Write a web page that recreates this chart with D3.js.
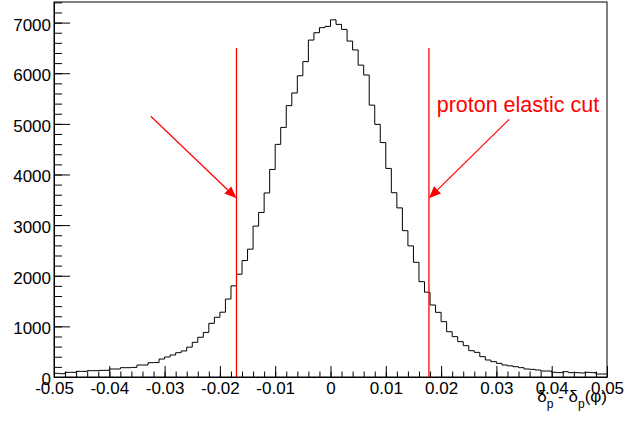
<!DOCTYPE html>
<html>
<head>
<meta charset="utf-8">
<script src="https://cdn.jsdelivr.net/npm/d3@7"></script>
<style>
  html, body { margin: 0; padding: 0; background: #fff; }
  text { font-family: "Liberation Sans", Arial, sans-serif; }
</style>
</head>
<body>
<div id="chart"></div>
<script>
// histogram: 100 bins from -0.05 to 0.05 (width 0.001)
const binStart = -0.05;
const binWidth = 0.001;
const counts = [
  72, 65, 92, 92, 112, 112, 125, 125, 130, 132,
  158, 158, 184, 184, 190, 237, 237, 283, 285, 355,
  395, 435, 480, 515, 590, 685, 785, 880, 1060, 1180,
  1280, 1540, 1800, 2030, 2300, 2525, 2980, 3250, 3635, 4100,
  4595, 4930, 5360, 5610, 5950, 6230, 6655, 6800, 6900, 6925,
  7055, 6965, 6865, 6635, 6460, 6160, 5965, 5370, 4990, 4630,
  4120, 3640, 3340, 2890, 2590, 2265, 1883, 1675, 1422, 1277,
  1093, 895, 797, 698, 619, 520, 487, 402, 336, 303,
  270, 237, 220, 204, 184, 158, 151, 138, 118, 118,
  92, 86, 105, 86, 86, 80, 92, 86, 59, 59
];

// axis ticks
const xTicks = [-0.05, -0.04, -0.03, -0.02, -0.01, 0, 0.01, 0.02, 0.03, 0.04, 0.05];
const xTickLabels = ["-0.05", "-0.04", "-0.03", "-0.02", "-0.01", "0", "0.01", "0.02", "0.03", "0.04", "0.05"];
const yTicks = [0, 1000, 2000, 3000, 4000, 5000, 6000, 7000];
const yTickLabels = ["0", "1000", "2000", "3000", "4000", "5000", "6000", "7000"];

// cut lines and annotation
const cutX = [-0.017, 0.0178];
const cutTop = 6500;
const arrowFrom = [[-0.0325, 5150], [0.0323, 5090]];
const arrowTo = [[-0.017, 3530], [0.0178, 3530]];
const labelText = "proton elastic cut";
const labelPos = [0.0192, 5234];

const width = 625, height = 423;
const padL = 54, padR = 607, padT = 2, padB = 377;

const svg = d3.select("#chart").append("svg")
  .attr("width", width)
  .attr("height", height);

svg.append("rect").attr("width", width).attr("height", height).attr("fill", "#fff");

const x = d3.scaleLinear().domain([-0.05, 0.05]).range([padL, padR]);
const y = d3.scaleLinear().domain([0, 7407]).range([padB, padT]);

// frame
svg.append("rect")
  .attr("x", padL).attr("y", padT)
  .attr("width", padR - padL).attr("height", padB - padT)
  .attr("fill", "none").attr("stroke", "#000").attr("stroke-width", 1);

// histogram step line
const pts = counts.map((c, i) => [binStart + i * binWidth, c]);
pts.push([binStart + counts.length * binWidth, counts[counts.length - 1]]);

const line = d3.line()
  .x(d => x(d[0]))
  .y(d => y(d[1]))
  .curve(d3.curveStepAfter);

svg.append("path")
  .datum(pts)
  .attr("d", line)
  .attr("fill", "none")
  .attr("stroke", "#000")
  .attr("stroke-width", 1);

// x axis, ticks pointing inward
const xMinor = d3.range(-50, 51, 2).map(d => d / 1000);
svg.append("g")
  .attr("transform", `translate(0,${padB})`)
  .call(d3.axisBottom(x).tickValues(xMinor).tickSizeInner(-5.5).tickSizeOuter(0).tickFormat(""))
  .call(g => g.select(".domain").remove());

svg.append("g")
  .attr("transform", `translate(0,${padB})`)
  .call(d3.axisBottom(x).tickValues(xTicks).tickSizeInner(-11).tickSizeOuter(0).tickPadding(5)
    .tickFormat((d, i) => xTickLabels[i]))
  .call(g => g.selectAll("text").attr("font-size", 17).attr("fill", "#000")
    .style("font-family", "'Liberation Sans', Arial, sans-serif"));

// y axis, ticks pointing inward
const yMinor = d3.range(0, 7401, 200);
svg.append("g")
  .attr("transform", `translate(${padL},0)`)
  .call(d3.axisLeft(y).tickValues(yMinor).tickSizeInner(-8).tickSizeOuter(0).tickFormat(""))
  .call(g => g.select(".domain").remove());

svg.append("g")
  .attr("transform", `translate(${padL},0)`)
  .call(d3.axisLeft(y).tickValues(yTicks).tickSizeInner(-16).tickSizeOuter(0).tickPadding(3)
    .tickFormat((d, i) => yTickLabels[i]))
  .call(g => g.selectAll("text").attr("font-size", 17).attr("dy", "0.44em").attr("fill", "#000")
    .style("font-family", "'Liberation Sans', Arial, sans-serif"));

svg.selectAll(".tick line, .domain").attr("stroke", "#000");

// axis title
const title = svg.append("text")
  .attr("x", padR).attr("y", 402)
  .attr("text-anchor", "end")
  .attr("font-size", 17)
  .attr("fill", "#000");
title.append("tspan").text("δ");
title.append("tspan").attr("font-size", 12).attr("dy", 6).text("p");
title.append("tspan").attr("dy", -6).text(" - δ");
title.append("tspan").attr("font-size", 12).attr("dy", 6).text("p");
title.append("tspan").attr("dy", -6).text("(φ)");

// cut lines
svg.selectAll(".cut")
  .data(cutX)
  .enter()
  .append("line")
  .attr("class", "cut")
  .attr("x1", d => x(d)).attr("x2", d => x(d))
  .attr("y1", y(0)).attr("y2", y(cutTop))
  .attr("stroke", "#ff0000")
  .attr("stroke-width", 1.3);

// arrows
arrowFrom.forEach(function(a, i) {
  const b = arrowTo[i];
  const x1 = x(a[0]), y1 = y(a[1]), x2 = x(b[0]), y2 = y(b[1]);
  const ang = Math.atan2(y2 - y1, x2 - x1);
  const len = 12, half = 5;
  const bx = x2 - len * Math.cos(ang), by = y2 - len * Math.sin(ang);
  svg.append("line")
    .attr("x1", x1).attr("y1", y1).attr("x2", bx).attr("y2", by)
    .attr("stroke", "#ff0000").attr("stroke-width", 1.2);
  const p1 = [bx + half * Math.sin(ang), by - half * Math.cos(ang)];
  const p2 = [bx - half * Math.sin(ang), by + half * Math.cos(ang)];
  svg.append("path")
    .attr("d", `M${x2},${y2}L${p1[0]},${p1[1]}L${p2[0]},${p2[1]}Z`)
    .attr("fill", "#ff0000");
});

// label
svg.append("text")
  .attr("x", x(labelPos[0])).attr("y", y(labelPos[1]))
  .attr("font-size", 21.5)
  .attr("fill", "#ff0000")
  .text(labelText);
</script>
</body>
</html>
